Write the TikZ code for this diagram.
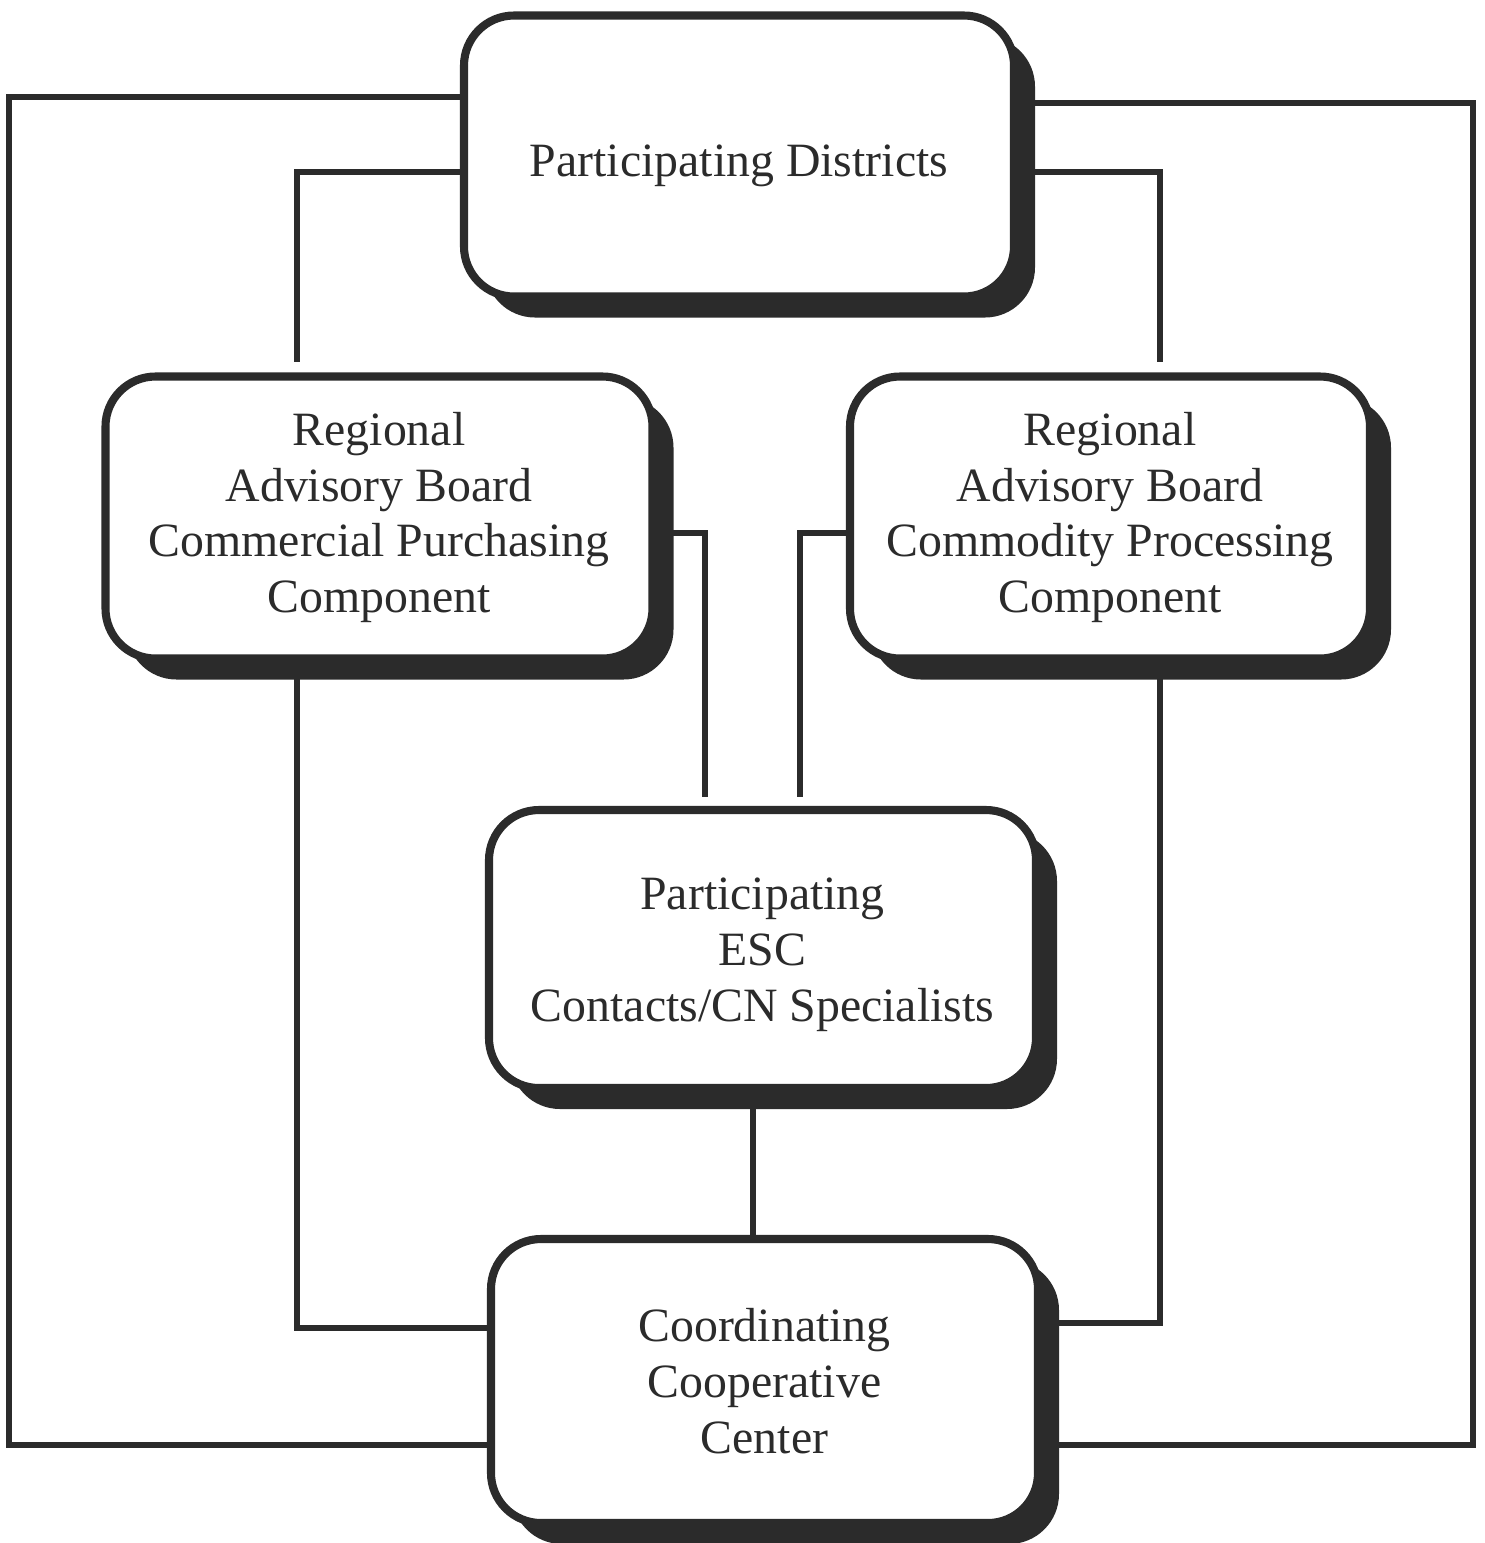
\documentclass[tikz,border=0pt]{standalone}
\usepackage{fontspec}
\setmainfont{Liberation Serif}
\usetikzlibrary{positioning,shadows,backgrounds}
\definecolor{ink}{RGB}{43,43,43}
\tikzset{
  unit/.style={draw=ink, line width=2.3pt, rounded corners=0.5cm, fill=white,
    align=center, inner sep=0pt, text=ink,
    font=\fontsize{13.6}{15.9}\selectfont,
    drop shadow={shadow xshift=0.21cm, shadow yshift=-0.21cm, fill=ink, opacity=1}},
  link/.style={draw=ink, line width=1.6pt}
}

\begin{document}
\begin{tikzpicture}
    \useasboundingbox (0,0) rectangle (14.85,-15.43);

    % Districts on top
    \node[unit, minimum width=5.5cm, minimum height=2.81cm] (pd) at (7.39,-1.56) {\raisebox{-0.1cm}[\height][\depth]{Participating Districts}};

    % The two advisory boards
    \node[unit, minimum width=5.47cm, minimum height=2.82cm] (rabl) at (3.79,-5.175) {Regional\\Advisory Board\\Commercial Purchasing\\Component};
    \node[unit, minimum width=5.2cm, minimum height=2.82cm] (rabr) at (11.10,-5.175) {Regional\\Advisory Board\\Commodity Processing\\Component};

    % ESC contacts
    \node[unit, minimum width=5.47cm, minimum height=2.78cm] (esc) at (7.625,-9.49) {\raisebox{-0.05cm}[\height][\depth]{\begin{tabular}{@{}c@{}}Participating\\ESC\\Contacts/CN Specialists\end{tabular}}};

    % Cooperative center at the bottom
    \node[unit, minimum width=5.47cm, minimum height=2.84cm] (ccc) at (7.645,-13.81) {Coordinating\\Cooperative\\Center};

    % Links, kept behind the boxes
    \begin{scope}[on background layer]
        \draw[link] (pd.west |- 0,-0.97) -| (0.09,-14.45) -- (ccc.west |- 0,-14.45);
        \draw[link] (pd.east |- 0,-1.03) -| (14.73,-14.45) -- (ccc.east |- 0,-14.45);
        \draw[link] (pd.west |- 0,-1.72) -| (2.97,-3.62);
        \draw[link] (pd.east |- 0,-1.72) -| (11.60,-3.62);
        \draw[link] (2.97,0 |- rabl.south) |- (ccc.west |- 0,-13.28);
        \draw[link] (11.60,0 |- rabr.south) |- (ccc.east |- 0,-13.23);
        \draw[link] (rabl.east |- 0,-5.33) -| (7.05,-7.97);
        \draw[link] (rabr.west |- 0,-5.33) -| (8.00,-7.97);
        \draw[link] (7.53,0 |- esc.south) -- (7.53,0 |- ccc.north);
    \end{scope}
\end{tikzpicture}
\end{document}
